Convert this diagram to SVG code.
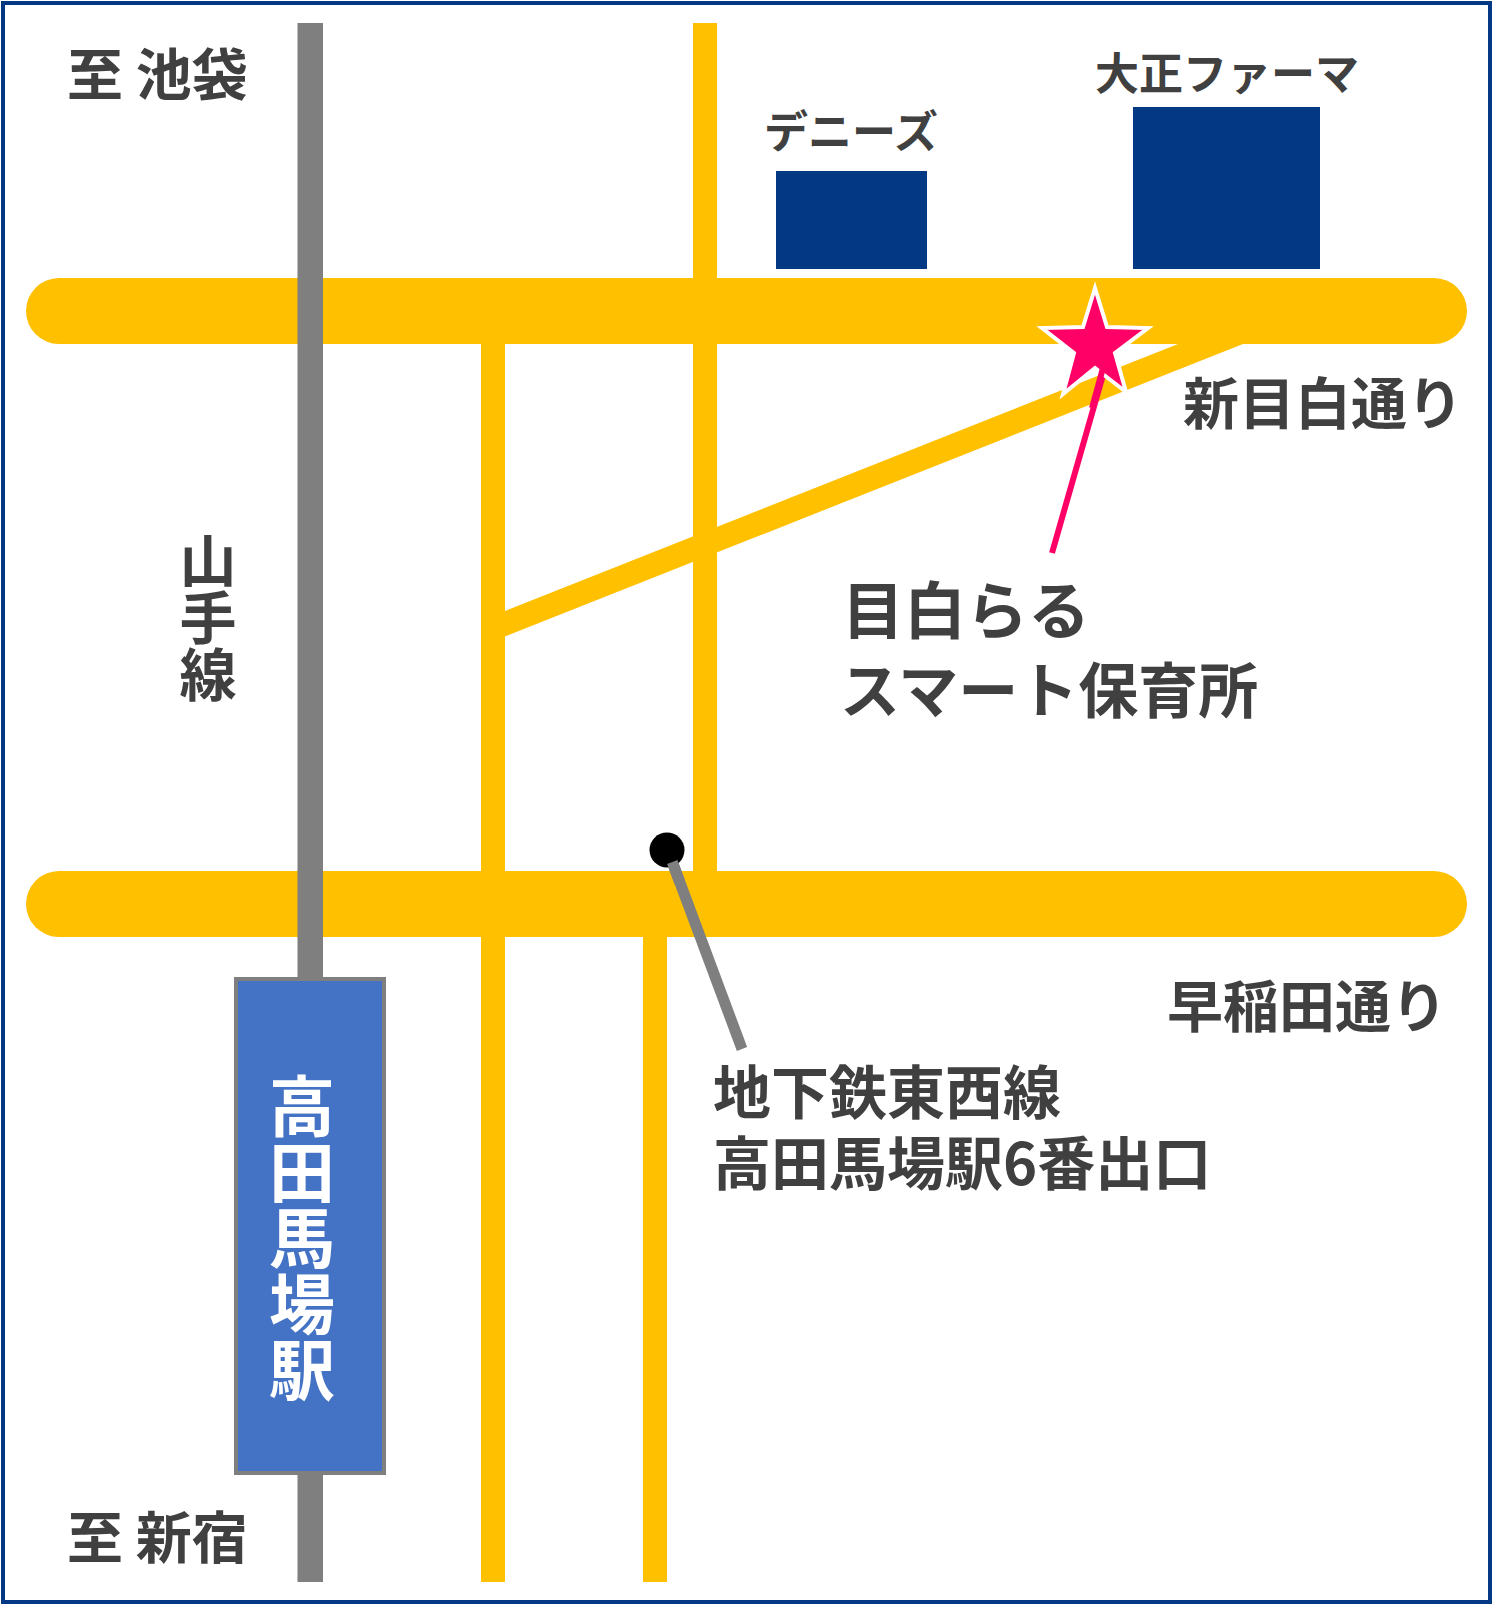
<svg xmlns="http://www.w3.org/2000/svg" width="1493" height="1605" viewBox="0 0 1493 1605">
<style>
text{font-family:"Noto Sans CJK JP","Noto Sans",sans-serif;font-weight:700;fill:#404040}
.road{fill:#FFC000}
.bld{fill:#033884}
.rail{fill:#7F7F7F}
.c{text-anchor:middle}
</style>
<rect x="0" y="0" width="1493" height="1605" fill="#fff"/>
<rect id="frame" x="3" y="3" width="1487" height="1599" fill="#fff" stroke="#033884" stroke-width="4"/>
<g id="roads">
<rect class="road" x="693" y="23" width="24" height="860"/>
<rect class="road" x="481" y="330" width="24" height="1252"/>
<rect class="road" x="643" y="920" width="24" height="662"/>
<polygon class="road" points="505,611 1178,344 1243,344 505,636.5"/>
<rect class="road" x="26" y="278" width="1441" height="66" rx="33"/>
<rect class="road" x="26" y="871" width="1441" height="66" rx="33"/>
</g>
<g id="rail"><rect class="rail" x="297.500" y="23" width="25.500" height="1559"/></g>
<g id="station">
<rect x="236" y="979" width="148" height="494" fill="#4472C4" stroke="#7F7F7F" stroke-width="4"/>
<text class="c" font-size="66" style="fill:#fff" x="302"><tspan x="302" y="1131">高</tspan><tspan x="302" y="1197">田</tspan><tspan x="302" y="1263">馬</tspan><tspan x="302" y="1329">場</tspan><tspan x="302" y="1395">駅</tspan></text>
</g>
<g id="buildings">
<g id="denny"><rect class="bld" x="776" y="171" width="151" height="98"/><text class="c" font-size="44" x="851" y="148">デニーズ</text></g>
<g id="taisho"><rect class="bld" x="1133" y="107" width="187" height="162"/><text class="c" font-size="44" x="1227" y="90">大正ファーマ</text></g>
</g>
<g id="connectors">
<line x1="672.300" y1="862" x2="742" y2="1049" stroke="#7F7F7F" stroke-width="11"/>
<line x1="1103" y1="375" x2="1052" y2="553" stroke="#FF0066" stroke-width="6"/>
</g>
<g id="exit"><circle cx="667" cy="850" r="17.500" fill="#000"/><line x1="672.300" y1="862" x2="680" y2="883" stroke="#7F7F7F" stroke-width="11"/></g>
<g id="star"><polygon points="1095,288 1107,327 1148,328 1115,353 1126,392 1095,368 1063,394 1074,353 1042,328 1083,327" fill="#FF0066" stroke="#fff" stroke-width="4"/><line x1="1103" y1="368" x2="1092" y2="408" stroke="#FF0066" stroke-width="6"/></g>
<g id="labels">
<text font-size="56" x="67" y="95">至 池袋</text>
<text font-size="56" x="67" y="1558">至 新宿</text>
<text font-size="56" x="1183" y="424">新目白通り</text>
<text font-size="56" x="1167" y="1027">早稲田通り</text>
<text class="c" font-size="57"><tspan x="208" y="582">山</tspan><tspan x="208" y="639">手</tspan><tspan x="208" y="696">線</tspan></text>
<text font-size="62" x="842" y="634">目白らる</text>
<text font-size="60" x="840" y="713">スマート保育所</text>
<text font-size="58" x="713" y="1114">地下鉄東西線</text>
<text font-size="58" x="713" y="1185">高田馬場駅6番出口</text>
</g>
</svg>
